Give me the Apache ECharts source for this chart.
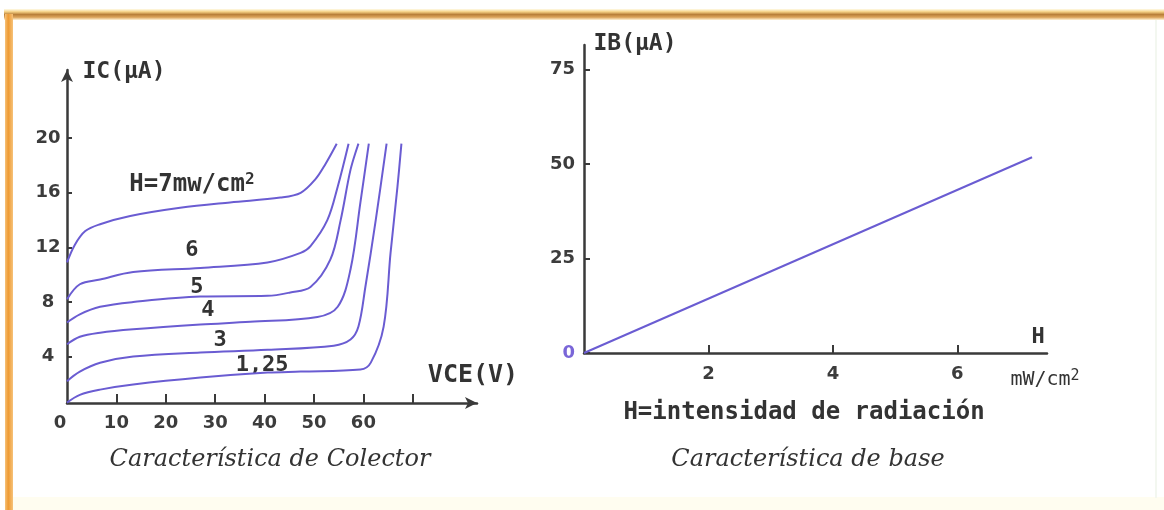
<!DOCTYPE html>
<html><head><meta charset="utf-8">
<script src="https://cdn.jsdelivr.net/npm/echarts@6/dist/echarts.min.js"></script>
<style>html,body{margin:0;padding:0;background:#fff}#c{width:1164px;height:510px}</style>
</head><body><div id="c"></div>
<script>
// ---- Left chart: collector characteristic, IC (uA) vs VCE (V) ----
const vceTicks = [10, 20, 30, 40, 50, 60, 70];
const vceLabels = [0, 10, 20, 30, 40, 50, 60];
const icLabels = [4, 8, 12, 16, 20];
const curveH7 = [[0,10.9],[1.6,12.2],[3.7,13.2],[6.7,13.7],[12.8,14.3],[22.9,14.9],[33,15.3],[43.2,15.65],[47.3,16.0],[50.3,17.0],[52.3,18.1],[54.6,19.6]];
const curveH6 = [[0,8.2],[2.6,9.3],[6.7,9.65],[13.4,10.2],[27,10.5],[40.6,10.9],[47.3,11.6],[49.3,12.1],[52.7,14.0],[54.8,16.45],[57,19.6]];
const curveH5 = [[0,6.5],[2.6,7.1],[6.7,7.65],[13.4,8.0],[27,8.4],[40.6,8.45],[45.2,8.7],[49.3,9.1],[53.3,11.1],[55.4,14.0],[57.4,17.7],[59,19.6]];
const curveH4 = [[0,4.9],[2.6,5.45],[6.7,5.75],[13.4,6.0],[27,6.35],[37.1,6.55],[50.7,6.9],[54.8,7.65],[57.4,10.4],[59.4,15.3],[61.1,19.6]];
const curveH3 = [[0,2.2],[2.6,2.9],[6.7,3.55],[13.4,4.0],[27,4.3],[40.6,4.5],[54,4.8],[57.4,5.25],[59,6.2],[60.4,9.1],[62.5,14.0],[64.7,19.6]];
const curveH125 = [[0,0.63],[2.6,1.2],[6.7,1.58],[13.4,1.95],[27,2.46],[40.6,2.83],[47.3,2.9],[59.4,3.05],[61.5,3.56],[64.1,6.2],[65.5,11.6],[66.9,16.45],[67.7,19.6]];
const curves = [curveH7, curveH6, curveH5, curveH4, curveH3, curveH125];
// curve labels: [VCE, IC, text]
const curveLabels = [[25.3,16.6,'{t|H=7mw/cm}{s|2}'],[25.3,11.8,'6'],[26.3,9.1,'5'],[28.5,7.4,'4'],[31.0,5.2,'3'],[39.5,3.4,'1,25']];

// ---- Right chart: base characteristic, IB (uA) vs H ----
const hTicks = [2, 4, 6];
const ibLabels = [0, 25, 50, 75];
const hValues = [0, 7.2];
const ibValues = [0, 51.8];

const axisCol = '#3a3a3a';
const lineCol = '#6a5cd2';
const mono = '"DejaVu Sans Mono", "Liberation Mono", monospace';
const sans = '"DejaVu Sans", sans-serif';
const serif = '"DejaVu Serif", serif';
const txt = '#333333';

const chart = echarts.init(document.getElementById('c'));
const series = curves.map(c => ({
  type: 'line', xAxisIndex: 0, yAxisIndex: 0, data: c, showSymbol: false,
  smooth: 0.35, lineStyle: {color: lineCol, width: 2}, silent: true
}));
series.push({
  type: 'scatter', xAxisIndex: 0, yAxisIndex: 0, symbolSize: 0, silent: true,
  itemStyle: {opacity: 1},
  data: curveLabels,
  label: {show: true, position: 'inside', formatter: p => p.data[2],
    fontFamily: mono, fontSize: 22, fontWeight: 'bold', color: txt,
    rich: {t: {fontFamily: mono, fontSize: 24, fontWeight: 'bold', color: txt, lineHeight: 26},
           s: {fontFamily: mono, fontSize: 16, fontWeight: 'bold', color: txt, verticalAlign: 'top', lineHeight: 26, padding:[0,0,8,0]}}}
});
series.push({
  type: 'line', xAxisIndex: 1, yAxisIndex: 1, data: hValues.map((h, i) => [h, ibValues[i]]),
  showSymbol: false, lineStyle: {color: lineCol, width: 2}, silent: true
});

const tickLabel = {fontFamily: sans, fontSize: 18, fontWeight: 'bold', color: '#3c3c3c'};

chart.setOption({
  backgroundColor: '#ffffff',
  animation: false,
  grid: [
    {left: 67, top: 70, width: 410, height: 333},
    {left: 584, top: 45, width: 463, height: 308}
  ],
  xAxis: [
    {gridIndex: 0, type: 'value', min: 0, max: 83,
     axisLine: {show: true, onZero: false, symbol: ['none', 'arrow'], symbolSize: [9, 12], lineStyle: {color: axisCol, width: 2.5}},
     axisTick: {show: true, inside: true, length: 9, customValues: vceTicks, lineStyle: {color: axisCol, width: 2}},
     axisLabel: Object.assign({customValues: vceLabels, margin: 11,
       formatter: v => v === 0 ? '{z|0}' : String(v),
       rich: {z: {fontFamily: sans, fontSize: 18, fontWeight: 'bold', color: '#3c3c3c', padding: [0, 14, 0, 0]}}}, tickLabel),
     splitLine: {show: false}},
    {gridIndex: 1, type: 'value', min: 0, max: 7.44,
     axisLine: {show: true, onZero: false, lineStyle: {color: axisCol, width: 2.5}},
     axisTick: {show: true, inside: true, length: 8, customValues: hTicks, lineStyle: {color: axisCol, width: 2}},
     axisLabel: Object.assign({customValues: hTicks, margin: 12}, tickLabel),
     splitLine: {show: false}}
  ],
  yAxis: [
    {gridIndex: 0, type: 'value', min: 0.6, max: 25,
     axisLine: {show: true, onZero: false, symbol: ['none', 'arrow'], symbolSize: [9, 12], lineStyle: {color: axisCol, width: 2.5}},
     axisTick: {show: true, inside: true, length: 5, customValues: icLabels, lineStyle: {color: axisCol, width: 2}},
     axisLabel: Object.assign({customValues: icLabels, margin: 19, align: 'center'}, tickLabel),
     splitLine: {show: false}},
    {gridIndex: 1, type: 'value', min: 0, max: 81.5,
     axisLine: {show: true, onZero: false, lineStyle: {color: axisCol, width: 2.5}},
     axisTick: {show: true, inside: true, length: 6, customValues: ibLabels, lineStyle: {color: axisCol, width: 2}},
     axisLabel: Object.assign({customValues: ibLabels, margin: 9,
       formatter: v => v === 0 ? '{p|0}' : String(v),
       rich: {p: {fontFamily: sans, fontSize: 18, fontWeight: 'bold', color: '#7a66d8'}}}, tickLabel),
     splitLine: {show: false}}
  ],
  graphic: [
    // frame
    {type: 'rect', shape: {x: 4, y: 9, width: 1160, height: 11}, style: {fill: new echarts.graphic.LinearGradient(0, 0, 0, 1, [
      {offset: 0, color: '#fffbe8'}, {offset: 0.25, color: '#f5d185'}, {offset: 0.5, color: '#b9803a'}, {offset: 0.75, color: '#dca45a'}, {offset: 1, color: '#fff3d8'}])}, z: 0},
    {type: 'rect', shape: {x: 5, y: 14, width: 8, height: 496}, style: {fill: new echarts.graphic.LinearGradient(0, 0, 1, 0, [
      {offset: 0, color: '#f6c27a'}, {offset: 0.4, color: '#ee9a32'}, {offset: 1, color: '#f6c27a'}])}, z: 0},
    {type: 'rect', shape: {x: 13, y: 497, width: 1151, height: 13}, style: {fill: '#fffdf0'}, z: 0},
    {type: 'rect', shape: {x: 1155, y: 20, width: 2, height: 478}, style: {fill: '#f3f7f0'}, z: 0},
    // texts
    {type: 'text', x: 124, y: 72, style: {text: 'IC(μA)', fontFamily: mono, fontSize: 23, fontWeight: 'bold', fill: txt, align: 'center', verticalAlign: 'middle'}},
    {type: 'text', x: 473, y: 375, style: {text: 'VCE(V)', fontFamily: mono, fontSize: 25, fontWeight: 'bold', fill: txt, align: 'center', verticalAlign: 'middle'}},
    {type: 'text', x: 635, y: 44, style: {text: 'IB(μA)', fontFamily: mono, fontSize: 23, fontWeight: 'bold', fill: txt, align: 'center', verticalAlign: 'middle'}},
    {type: 'text', x: 1038, y: 337, style: {text: 'H', fontFamily: mono, fontSize: 22, fontWeight: 'bold', fill: txt, align: 'center', verticalAlign: 'middle'}},
    {type: 'text', x: 1045, y: 380, style: {text: '{u|mW/cm}{s|2}', fill: txt, align: 'center', verticalAlign: 'middle',
      rich: {u: {fontFamily: mono, fontSize: 20, fill: txt, lineHeight: 22}, s: {fontFamily: mono, fontSize: 15, fill: txt, verticalAlign: 'top', lineHeight: 22, padding: [0,0,8,0]}}}},
    {type: 'text', x: 804, y: 413, style: {text: 'H=intensidad de radiación', fontFamily: mono, fontSize: 24, fontWeight: 'bold', fill: txt, align: 'center', verticalAlign: 'middle'}},
    {type: 'text', x: 270, y: 460, style: {text: 'Característica de Colector', fontFamily: serif, fontStyle: 'italic', fontSize: 24, fill: txt, align: 'center', verticalAlign: 'middle'}},
    {type: 'text', x: 808, y: 460, style: {text: 'Característica de base', fontFamily: serif, fontStyle: 'italic', fontSize: 24, fill: txt, align: 'center', verticalAlign: 'middle'}}
  ],
  series: series
});
</script>
</body></html>
